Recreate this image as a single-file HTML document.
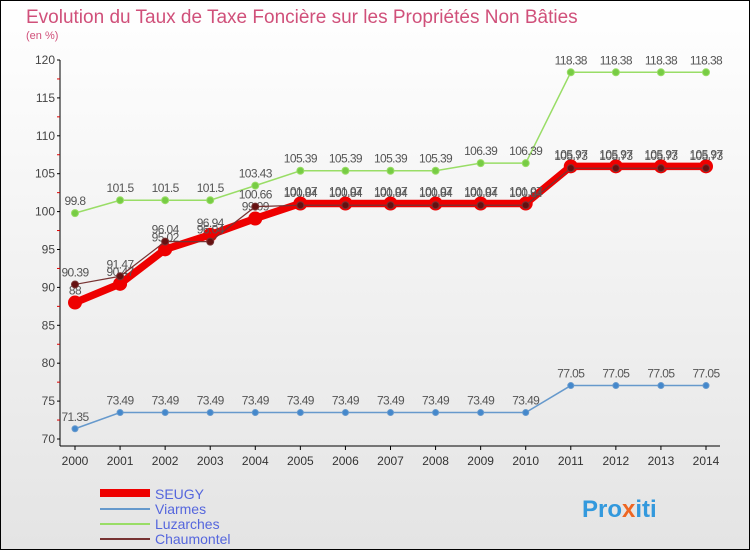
<!DOCTYPE html>
<html><head><meta charset="utf-8"><style>
body{margin:0;width:750px;height:550px;overflow:hidden;font-family:"Liberation Sans",sans-serif}
</style></head><body>
<svg id="c" width="750" height="550" xmlns="http://www.w3.org/2000/svg" font-family="Liberation Sans, sans-serif">
<defs><linearGradient id="bg" x1="0" y1="0" x2="0" y2="1"><stop offset="0" stop-color="#ffffff"/><stop offset="1" stop-color="#e4e4e4"/></linearGradient></defs>
<rect x="0.5" y="0.5" width="749" height="549" fill="url(#bg)" stroke="#000"/>
<text x="26" y="23" font-size="19" fill="#d0507a">Evolution du Taux de Taxe Foncière sur les Propriétés Non Bâties</text>
<text x="26" y="39" font-size="11" fill="#d0507a">(en %)</text>
<g id="axes"></g><g id="series"></g>
<g>
<line x1="100" y1="493" x2="150" y2="493" stroke="#ee0000" stroke-width="8"/>
<text x="155" y="499" font-size="14" fill="#5566dd">SEUGY</text>
<line x1="100" y1="509" x2="150" y2="509" stroke="#6699cc" stroke-width="2"/>
<text x="155" y="514" font-size="14" fill="#5566dd">Viarmes</text>
<line x1="100" y1="524" x2="150" y2="524" stroke="#99dd66" stroke-width="2"/>
<text x="155" y="529" font-size="14" fill="#5566dd">Luzarches</text>
<line x1="100" y1="539" x2="150" y2="539" stroke="#773333" stroke-width="2"/>
<text x="155" y="544" font-size="14" fill="#5566dd">Chaumontel</text>
</g>
<text x="582" y="517" font-size="24" font-weight="bold" fill="#3399dd">Pro<tspan fill="#ee6622">x</tspan>iti</text>
</svg>
<script>
const years=[2000,2001,2002,2003,2004,2005,2006,2007,2008,2009,2010,2011,2012,2013,2014];
const yTicks=[70,75,80,85,90,95,100,105,110,115,120];
const seugy=[88,90.47,95.02,96.94,99.09,101.07,101.07,101.07,101.07,101.07,101.07,105.97,105.97,105.97,105.97];
const viarmes=[71.35,73.49,73.49,73.49,73.49,73.49,73.49,73.49,73.49,73.49,73.49,77.05,77.05,77.05,77.05];
const luzarches=[99.8,101.5,101.5,101.5,103.43,105.39,105.39,105.39,105.39,106.39,106.39,118.38,118.38,118.38,118.38];
const chaumontel=[90.39,91.47,96.04,96.04,100.66,100.84,100.84,100.84,100.84,100.84,100.84,105.73,105.73,105.73,105.73];
const NS="http://www.w3.org/2000/svg";
const X=i=>75+i*(706-75)/14, Y=v=>439-(v-70)*(439-60)/50;
function mk(t,a,p){const e=document.createElementNS(NS,t);for(const k in a)e.setAttribute(k,a[k]);p.appendChild(e);return e;}
const ax=document.getElementById('axes'), sr=document.getElementById('series');
const yl=mk('line',{x1:60,y1:60,x2:60,y2:446,stroke:'#000'},ax);


const xl=mk('line',{x1:60,y1:446,x2:720,y2:446,stroke:'#000'},ax);


yTicks.forEach(v=>{const t=mk('text',{x:55,y:Y(v)+4,'font-size':12,fill:'#444','text-anchor':'end'},ax);t.textContent=v;


mk('line',{x1:57,y1:Y(v),x2:60,y2:Y(v),stroke:'#000'},ax);
if(v<120)mk('line',{x1:57,y1:Y(v+2.5),x2:60,y2:Y(v+2.5),stroke:'#d00'},ax);});
years.forEach((y,i)=>{const t=mk('text',{x:X(i),y:465,'font-size':12,fill:'#333','text-anchor':'middle'},ax);t.textContent=y;


mk('line',{x1:X(i),y1:446,x2:X(i),y2:450,stroke:'#000'},ax);});
function draw(d,name,col,w,r,fill){const g=mk('g',{},sr);


const l=mk('polyline',{points:d.map((v,i)=>X(i)+','+Y(v)).join(' '),fill:'none',stroke:col,'stroke-width':w},g);


d.forEach((v,i)=>{const c=mk('circle',{cx:X(i),cy:Y(v),r:r,fill:fill,stroke:col},g);


const t=mk('text',{x:X(i),y:Y(v)-8,'font-size':12,fill:'#555','text-anchor':'middle','letter-spacing':'-0.6'},g);t.textContent=v;

});}
draw(viarmes,'viarmes','#6699cc',1.5,3,'#4488cc');
draw(luzarches,'luzarches','#99dd66',1.5,3.5,'#77cc44');
draw(seugy,'seugy','#ee0000',7.5,6.5,'#ee0000');
draw(chaumontel,'chaumontel','#773333',1.2,3.5,'#661111');
</script>
</body></html>
